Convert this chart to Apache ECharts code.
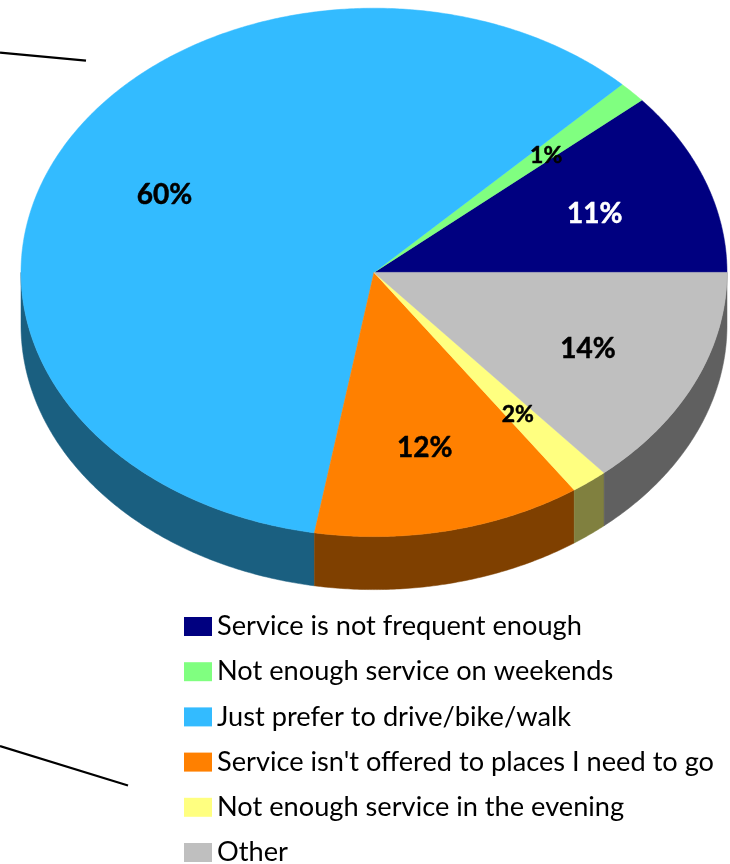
<!DOCTYPE html>
<html>
<head>
<meta charset="utf-8">
<style>
  html, body { margin: 0; padding: 0; background: #fff; }
  #main { width: 730px; height: 864px; }
</style>
<script src="https://cdn.jsdelivr.net/npm/echarts@6/dist/echarts.min.js"></script>
</head>
<body>
<div id="main"></div>
<script>
const categories = [
  "Service is not frequent enough",
  "Not enough service on weekends",
  "Just prefer to drive/bike/walk",
  "Service isn't offered to places I need to go",
  "Not enough service in the evening",
  "Other"
];
const shares = [11.3, 1.3, 59.7, 12.3, 1.7, 13.7];
const topColors = ["#000080", "#80ff80", "#33bbff", "#ff8000", "#ffff80", "#bfbfbf"];
const sideColors = ["#000040", "#408040", "#1a5f80", "#7f4000", "#80803f", "#606060"];
const labelColors = ["#ffffff", "#000000", "#000000", "#000000", "#000000", "#000000"];

// pie geometry, the ellipse is the tilted disc
const cx = 374, cy = 272.4, rx = 353, ry = 264.2, depth = 53;
const total = shares.reduce((a, b) => a + b, 0);

function pointAt(deg, dy) {
  const t = deg * Math.PI / 180;
  return [cx + rx * Math.cos(t), cy - ry * Math.sin(t) + (dy || 0)];
}

function arc(from, to, dy) {
  const pts = [];
  const n = Math.max(2, Math.ceil((to - from) * 2));
  for (let i = 0; i <= n; i++) {
    pts.push(pointAt(from + (to - from) * i / n, dy));
  }
  return pts;
}

function renderSlice(index) {
  return function (params, api) {
    const before = shares.slice(0, index).reduce((a, b) => a + b, 0);
    const start = before / total * 360;
    const end = start + api.value(0) / total * 360;
    const children = [];

    // only the front half of the rim can be seen
    const from = Math.max(start, 180), to = end;
    if (to > from) {
      const upper = arc(from, to, 0);
      const lower = arc(from, to, depth).reverse();
      children.push({
        type: "polygon",
        shape: { points: upper.concat(lower) },
        style: { fill: sideColors[index], stroke: sideColors[index], lineWidth: 0.5 }
      });
    }

    children.push({
      type: "polygon",
      z2: 10,
      shape: { points: [[cx, cy]].concat(arc(start, end, 0)) },
      style: { fill: topColors[index], stroke: topColors[index], lineWidth: 0.5 }
    });

    const mid = pointAt((start + end) / 2, 0);
    // thin slices carry a smaller label
    const fontSize = api.value(0) < 5 ? 23 : 28;
    children.push({
      type: "text",
      z2: 100,
      x: cx + (mid[0] - cx) * 0.667,
      y: cy + (mid[1] - cy) * 0.667 + 3,
      style: {
        text: Math.round(api.value(0)) + "%",
        font: "bold " + fontSize + "px Lato",
        fill: labelColors[index],
        stroke: labelColors[index],
        lineWidth: 0.5,
        align: "center",
        verticalAlign: "middle"
      }
    });
    return { type: "group", children: children };
  };
}

const chart = echarts.init(document.getElementById("main"));
chart.setOption({
  animation: false,
  backgroundColor: "#ffffff",
  legend: {
    orient: "vertical",
    left: 184,
    top: 613,
    height: 300,
    padding: 0,
    itemWidth: 28,
    itemHeight: 19,
    itemGap: 18.2,
    icon: "rect",
    selectedMode: false,
    data: categories,
    textStyle: {
      fontFamily: "Lato",
      fontSize: 27.2,
      color: "#000000"
    }
  },
  series: categories.map((name, i) => ({
    name: name,
    type: "custom",
    coordinateSystem: "none",
    silent: true,
    itemStyle: { color: topColors[i] },
    data: [[shares[i]]],
    renderItem: renderSlice(i)
  })),
  graphic: [
    { type: "line", shape: { x1: 0, y1: 52.7, x2: 86, y2: 60.7 }, style: { stroke: "#000", lineWidth: 2.2 } },
    { type: "line", shape: { x1: 0, y1: 746, x2: 128, y2: 785.5 }, style: { stroke: "#000", lineWidth: 2.2 } }
  ]
});
</script>
</body>
</html>
